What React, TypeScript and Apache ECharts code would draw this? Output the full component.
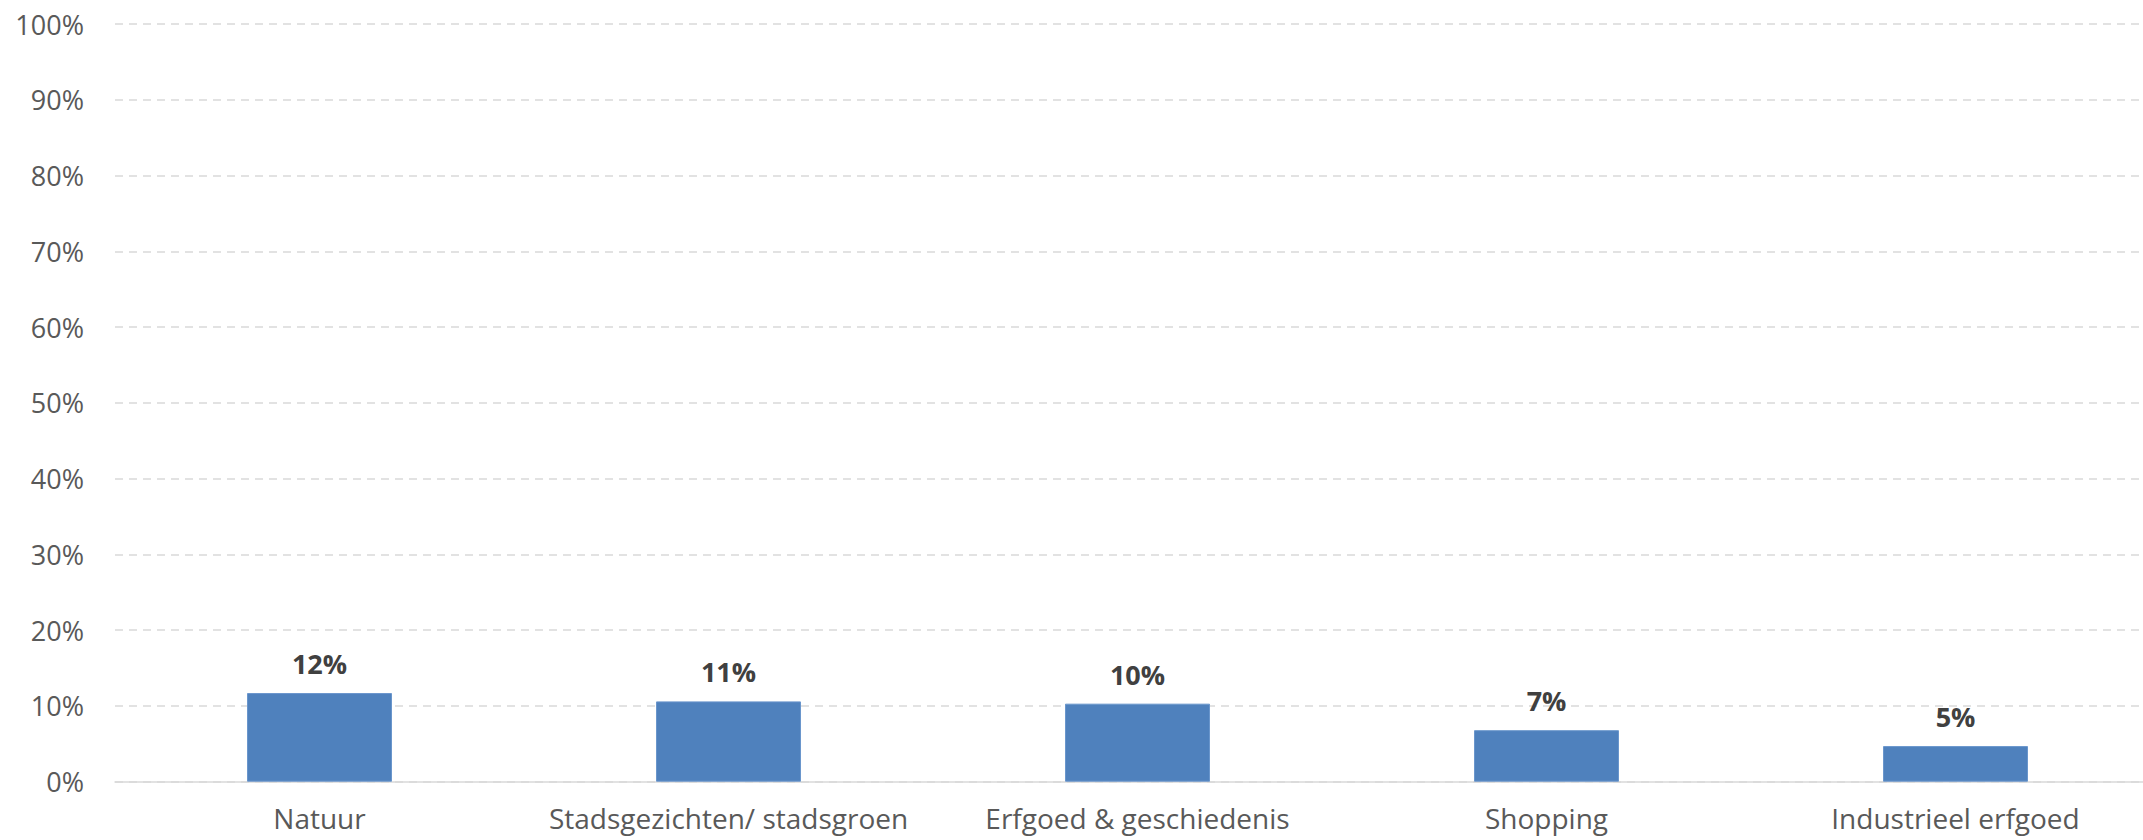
import React, { useEffect, useRef } from "react";
import * as echarts from "echarts";

const categories = [
  "Natuur",
  "Stadsgezichten/ stadsgroen",
  "Erfgoed & geschiedenis",
  "Shopping",
  "Industrieel erfgoed",
];
const values = [11.7, 10.6, 10.3, 6.8, 4.7];
const yMin = 0;
const yMax = 100;
const yInterval = 10;

export default function App() {
  const ref = useRef<HTMLDivElement>(null);
  useEffect(() => {
    if (!ref.current) return;
    const chart = echarts.init(ref.current, null, { renderer: "svg" });
    chart.setOption({
      animation: false,
      backgroundColor: "#ffffff",
      textStyle: { fontFamily: "'Open Sans', sans-serif" },
      grid: { left: 115, top: 24, height: 757.7, width: 2045 },
      xAxis: {
        type: "category",
        data: categories,
        axisLine: { lineStyle: { color: "#d9d9d9", width: 1.5 } },
        axisTick: { show: false },
        axisLabel: {
          color: "#595959",
          fontSize: 28,
          margin: 22,
          interval: 0,
          fontFamily: "'Open Sans', sans-serif",
        },
      },
      yAxis: {
        type: "value",
        min: yMin,
        max: yMax,
        interval: yInterval,
        axisLine: { show: false },
        axisTick: { show: false },
        axisLabel: {
          color: "#595959",
          fontSize: 27,
          margin: 31,
          formatter: (v: number) => `${v}%`,
          fontFamily: "'Open Sans', sans-serif",
        },
        splitLine: {
          lineStyle: { color: "#d9d9d9", width: 1.5, type: [8, 6] },
        },
      },
      series: [
        {
          type: "bar",
          data: values,
          barWidth: 145,
          itemStyle: { color: "#4F81BD", borderColor: "#6a96cc", borderWidth: 1 },
          label: {
            show: true,
            position: "top",
            distance: 16,
            color: "#404040",
            fontSize: 27,
            fontWeight: "bold",
            fontFamily: "'Open Sans', sans-serif",
            formatter: (p: any) => `${Math.round(p.value)}%`,
          },
        },
      ],
    });
    return () => chart.dispose();
  }, []);
  return (
    <div
      style={{
        position: "absolute",
        left: 0,
        top: 0,
        width: 2143,
        height: 840,
        overflow: "hidden",
        background: "#ffffff",
      }}
    >
      <div ref={ref} style={{ width: 2160, height: 840 }} />
    </div>
  );
}
